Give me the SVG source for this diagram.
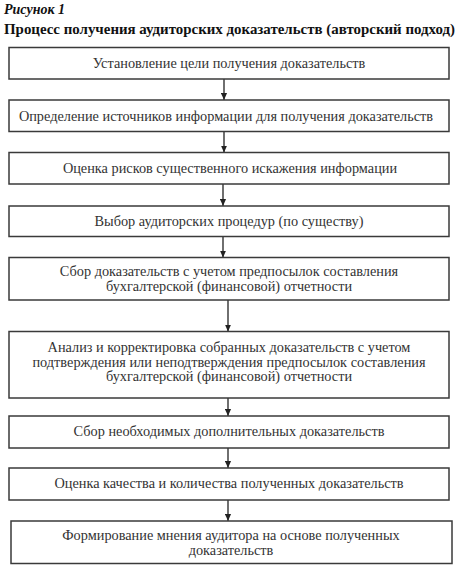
<svg xmlns="http://www.w3.org/2000/svg" width="465" height="572" viewBox="0 0 465 572">
<defs>
<style>
.box{fill:#fff;stroke:#3a3a3a;stroke-width:1.5}
.t{font-family:"Liberation Serif","Times New Roman",serif;font-size:14.3px;fill:#333;text-anchor:middle}
.edge{stroke:#222;stroke-width:1.3;fill:none}
.h1{font-family:"Liberation Serif","Times New Roman",serif;font-weight:bold;fill:#111}
</style>
<marker id="ah" viewBox="0 0 8 8" refX="8" refY="4" markerWidth="7" markerHeight="7" markerUnits="userSpaceOnUse" orient="auto">
<path d="M0,0.5 L8,4 L0,7.5 Z" fill="#222"/>
</marker>
</defs>
<rect width="465" height="572" fill="#fff"/>
<text class="h1" x="4" y="14" font-size="14" font-style="italic">Рисунок 1</text>
<text class="h1" x="4" y="34" font-size="14" textLength="451" lengthAdjust="spacingAndGlyphs">Процесс получения аудиторских доказательств (авторский подход)</text>

<g id="edges">
<path class="edge" marker-end="url(#ah)" d="M224,79 V100"/>
<path class="edge" marker-end="url(#ah)" d="M224,131.5 V152.5"/>
<path class="edge" marker-end="url(#ah)" d="M223,184 V206"/>
<path class="edge" marker-end="url(#ah)" d="M223,236.5 V257.5"/>
<path class="edge" marker-end="url(#ah)" d="M228,300 V331.5"/>
<path class="edge" marker-end="url(#ah)" d="M228,398 V416"/>
<path class="edge" marker-end="url(#ah)" d="M228,448 V468"/>
<path class="edge" marker-end="url(#ah)" d="M228,500 V521"/>
</g>

<g id="n1"><rect class="box" x="9" y="47.5" width="440" height="31.5"/>
<text class="t" x="229" y="68">Установление цели получения доказательств</text></g>
<g id="n2"><rect class="box" x="9" y="100" width="440" height="31.5"/>
<text class="t" x="226" y="120.5">Определение источников информации для получения доказательств</text></g>
<g id="n3"><rect class="box" x="9" y="152.5" width="440" height="31.5"/>
<text class="t" x="230" y="173">Оценка рисков существенного искажения информации</text></g>
<g id="n4"><rect class="box" x="9" y="206" width="440" height="30.5"/>
<text class="t" x="229" y="225.5">Выбор аудиторских процедур (по существу)</text></g>
<g id="n5"><rect class="box" x="9" y="257.5" width="440" height="42.5"/>
<text class="t" x="229" y="276">Сбор доказательств с учетом предпосылок составления</text>
<text class="t" x="229" y="291">бухгалтерской (финансовой) отчетности</text></g>
<g id="n6"><rect class="box" x="9" y="331.5" width="440" height="66.5"/>
<text class="t" x="229" y="352">Анализ и корректировка собранных доказательств с учетом</text>
<text class="t" x="229" y="366.5">подтверждения или неподтверждения предпосылок составления</text>
<text class="t" x="229" y="381">бухгалтерской (финансовой) отчетности</text></g>
<g id="n7"><rect class="box" x="9" y="416" width="440" height="32"/>
<text class="t" x="229" y="436">Сбор необходимых дополнительных доказательств</text></g>
<g id="n8"><rect class="box" x="9" y="468" width="440" height="32"/>
<text class="t" x="229" y="488">Оценка качества и количества полученных доказательств</text></g>
<g id="n9"><rect class="box" x="11" y="521" width="441" height="42.5"/>
<text class="t" x="231" y="540">Формирование мнения аудитора на основе полученных</text>
<text class="t" x="231" y="555">доказательств</text></g>
</svg>
